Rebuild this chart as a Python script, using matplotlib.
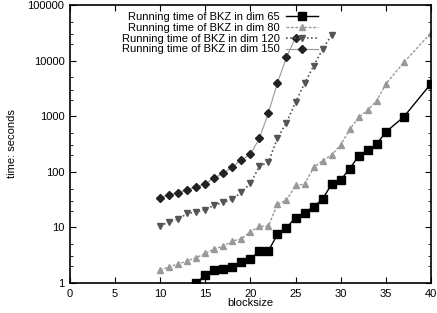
import matplotlib
matplotlib.use('Agg')
import matplotlib.pyplot as plt
from matplotlib.ticker import FixedLocator, NullFormatter

plt.rcParams['font.family'] = ['Liberation Sans', 'DejaVu Sans']
plt.rcParams['font.size'] = 8

# blocksize -> running time (seconds)
bs65 = [14, 15, 16, 17, 18, 19, 20, 21, 22, 23, 24, 25, 26, 27, 28, 29, 30,
        31, 32, 33, 34, 35, 37, 40]
t65 = [1.02, 1.37, 1.68, 1.76, 1.92, 2.42, 2.67, 3.8, 3.8, 7.5, 9.9, 15,
       18.4, 23.5, 32.5, 60, 71, 114, 193, 248, 316, 520, 975, 3840]

bs80 = [10, 11, 12, 13, 14, 15, 16, 17, 18, 19, 20, 21, 22, 23, 24, 25, 26,
        27, 28, 29, 30, 31, 32, 33, 34, 35, 37, 40]
t80 = [1.69, 1.96, 2.2, 2.5, 2.87, 3.4, 4.1, 4.6, 5.7, 6.2, 8.4, 10.4, 10.7,
       26, 31, 57, 60, 120, 158, 202, 304, 580, 950, 1290, 1910, 3800, 9300,
       31500]

bs120 = [10, 11, 12, 13, 14, 15, 16, 17, 18, 19, 20, 21, 22, 23, 24, 25, 26,
         27, 28, 29]
t120 = [10.6, 12.7, 14, 17.9, 18.9, 21, 25, 28.3, 32.4, 43, 62, 125, 151,
        405, 770, 1770, 3900, 8000, 16000, 29000]

bs150 = [10, 11, 12, 13, 14, 15, 16, 17, 18, 19, 20, 21, 22, 23, 24, 25]
t150 = [34, 39, 42, 48, 54, 61, 78, 94, 123, 163, 207, 400, 1160, 4000,
        11500, 26000]

labels = ['Running time of BKZ in dim 65', 'Running time of BKZ in dim 80',
          'Running time of BKZ in dim 120', 'Running time of BKZ in dim 150']
yticks = [1, 10, 100, 1000, 10000, 100000]
ytick_labels = ['1', '10', '100', '1000', '10000', '100000']

fig = plt.figure(figsize=(4.37, 3.13), dpi=100)
ax = fig.add_axes([0.160, 0.0958, 0.826, 0.888])

ax.plot(bs65, t65, color='black', lw=1.0, ls='-', marker='s', ms=6,
        label=labels[0])
ax.plot(bs80, t80, color='#999999', lw=1.0, ls=(0, (2, 1.2)), marker='^',
        ms=5, label=labels[1])
ax.plot(bs120, t120, color='#555555', lw=1.2, ls=(0, (1, 1.5)), marker='v',
        ms=5, label=labels[2])
ax.plot(bs150, t150, color='#999999', lw=0.8, ls='-', marker='D', ms=4.3,
        mfc='#222222', mec='#222222', label=labels[3])

ax.set_yscale('log')
ax.set_xlim(0, 40)
ax.set_ylim(1, 100000)
ax.set_xticks(range(0, 41, 5))
ax.yaxis.set_major_locator(FixedLocator(yticks))
ax.set_yticklabels(ytick_labels)
minors = [m * 10 ** e for e in range(5) for m in (2, 3, 5)]
ax.yaxis.set_minor_locator(FixedLocator(minors))
ax.yaxis.set_minor_formatter(NullFormatter())

ax.tick_params(which='both', direction='in', top=True, right=True)
ax.tick_params(which='major', length=4, width=0.8, pad=4)
ax.tick_params(which='minor', length=2, width=0.6)
ax.tick_params(axis='x', pad=4)
for s in ax.spines.values():
    s.set_linewidth(1.2)

ax.set_xlabel('blocksize')
ax.xaxis.set_label_coords(0.5, -0.072)
ax.xaxis.label.set_va('center')
ax.set_ylabel('time: seconds')
ax.yaxis.set_label_coords(-0.16, 0.5)
ax.yaxis.label.set_va('center')

ax.legend(loc='upper right', bbox_to_anchor=(0.705, 1.0), frameon=False,
          markerfirst=False, handlelength=2.9, handletextpad=0.5,
          labelspacing=0.08, borderaxespad=0.3, borderpad=0.3)

fig.savefig('out.png', dpi=100)
